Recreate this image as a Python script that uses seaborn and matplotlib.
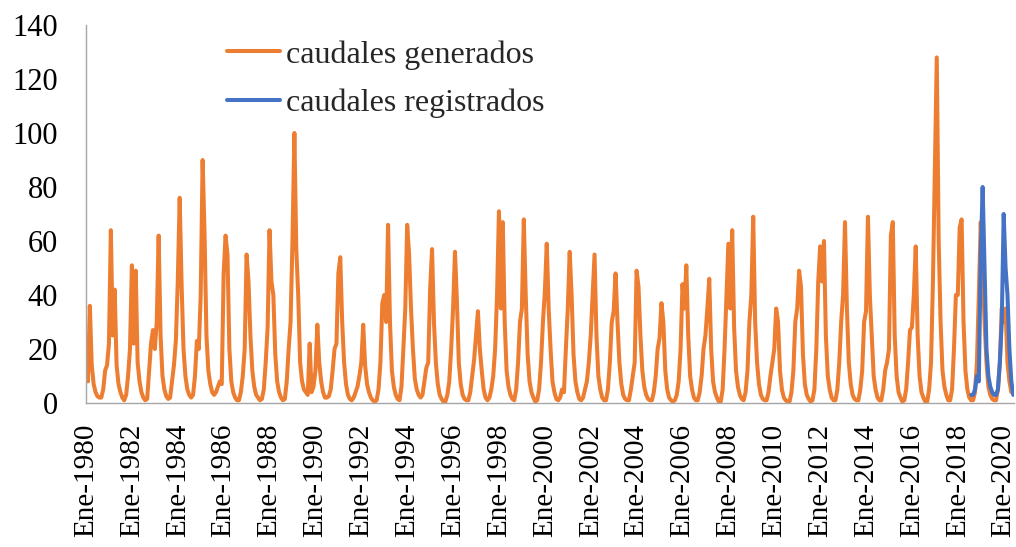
import numpy as np
import pandas as pd
import matplotlib
matplotlib.use("Agg")
import matplotlib.pyplot as plt
import seaborn as sns

# Monthly flows (Ene..Dic), Jan 1980 onward
generados = [
    19, 8, 36, 14, 7, 4, 2.5, 2, 2, 5, 12, 14,          # 1980
    22, 64, 25, 42, 14, 7, 4, 2, 1, 3, 10, 20,          # 1981
    51, 22, 49, 15, 8, 4, 2, 1, 1.5, 12, 22, 27,        # 1982
    20, 30, 62, 25, 10, 5, 2.5, 1.5, 2, 8, 14, 23,      # 1983
    45, 76, 44, 20, 10, 5, 3, 2, 3, 10, 23, 20,         # 1984
    40, 90, 63, 25, 12, 7, 4, 3, 4, 6, 8, 7,            # 1985
    48, 62, 55, 20, 8, 4, 2, 1, 1, 4, 10, 20,           # 1986
    55, 45, 25, 12, 6, 3, 2, 1, 1.5, 5, 15, 28,         # 1987
    64, 45, 40, 18, 8, 4, 2, 1, 1.5, 8, 20, 30,         # 1988
    60, 100, 57, 40, 15, 8, 5, 4, 3, 22, 4, 6,          # 1989
    12, 29, 15, 8, 4, 2, 2, 2.5, 5, 12, 20, 22,         # 1990
    48, 54, 30, 15, 7, 3, 1.5, 1, 2, 4, 6, 10,          # 1991
    15, 29, 14, 7, 4, 2, 1, 0.5, 1, 5, 15, 37,          # 1992
    40, 30, 66, 30, 12, 6, 3, 1.5, 1, 6, 20, 35,        # 1993
    66, 55, 35, 20, 9, 5, 3, 2, 3, 8, 13, 15,           # 1994
    42, 57, 30, 15, 7, 3, 1.5, 0.5, 0.5, 3, 8, 20,      # 1995
    35, 56, 38, 15, 7, 3, 1.5, 1, 1, 4, 10, 16,         # 1996
    25, 34, 20, 12, 5, 2, 1, 2, 5, 10, 20, 40,          # 1997
    71, 35, 67, 30, 12, 6, 3, 1.5, 1, 5, 15, 30,        # 1998
    35, 68, 40, 18, 8, 4, 2, 0.5, 1, 5, 15, 30,         # 1999
    41, 59, 35, 20, 8, 4, 1.5, 1, 2, 5, 4, 20,          # 2000
    35, 56, 40, 18, 8, 4, 1.5, 1, 2, 5, 8, 15,          # 2001
    25, 40, 55, 25, 10, 5, 2, 1, 1, 5, 15, 30,          # 2002
    34, 48, 30, 15, 7, 3, 1.5, 1, 1, 5, 10, 15,         # 2003
    49, 43, 25, 12, 6, 3, 1.5, 1, 1, 4, 10, 20,         # 2004
    24, 37, 30, 12, 5, 2, 1, 0.5, 1, 3, 8, 20,          # 2005
    44, 35, 51, 25, 10, 5, 2, 1, 1, 4, 10, 20,          # 2006
    25, 35, 46, 20, 8, 4, 2, 0.5, 0.5, 5, 20, 40,       # 2007
    59, 35, 64, 28, 12, 6, 3, 1.5, 1, 4, 12, 30,        # 2008
    40, 69, 30, 15, 7, 3, 1.5, 1, 1, 4, 10, 15,         # 2009
    20, 35, 30, 12, 5, 2, 1, 0.5, 0.5, 4, 12, 30,       # 2010
    35, 49, 43, 18, 7, 3, 1.5, 0.5, 1, 5, 20, 45,       # 2011
    58, 45, 60, 25, 10, 5, 2, 1, 1, 5, 15, 30,          # 2012
    40, 67, 35, 15, 7, 3, 1.5, 1, 1, 5, 12, 30,         # 2013
    34, 69, 40, 25, 10, 5, 2, 1, 1, 5, 12, 15,          # 2014
    20, 62, 67, 25, 10, 4, 2, 0.5, 1, 5, 15, 27,        # 2015
    28, 40, 58, 25, 10, 4, 2, 0.5, 0.5, 5, 15, 45,      # 2016
    87, 128, 60, 30, 12, 6, 3, 1, 1, 5, 20, 40,         # 2017
    40, 65, 68, 30, 12, 5, 2, 1, 1, 4, 15, 40,          # 2018
    67, 50, 30, 15, 6, 3, 1.5, 1, 1, 5, 15, 35,         # 2019
    30, 35, 15, 8, 4,                                   # 2020
]
generados_inicio = 1980.0

# Recorded flows, Aug 2018 onward
registrados = [3, 3, 5, 10, 8,                            # 2018 (Ago-Dic)
               55, 80, 50, 20, 10, 6, 4, 3, 3, 5, 15, 30,   # 2019
               70, 50, 40, 20, 8, 3]                      # 2020
registrados_inicio = 2018 + 7 / 12

tick_years = list(range(1980, 2021, 2))
tick_labels = [f"Ene-{y}" for y in tick_years]
y_ticks = [0, 20, 40, 60, 80, 100, 120, 140]

df_gen = pd.DataFrame({"t": generados_inicio + np.arange(len(generados)) / 12,
                       "q": generados})
df_reg = pd.DataFrame({"t": registrados_inicio + np.arange(len(registrados)) / 12,
                       "q": registrados})

sns.set_style("white")
plt.rcParams["font.family"] = ["Liberation Serif", "DejaVu Serif"]

fig = plt.figure(figsize=(10.16, 5.47), dpi=100)
ax = fig.add_axes([86 / 1016, 1 - 403 / 547, (1014 - 86) / 1016, (403 - 25) / 547])

orange = "#ED7D31"
blue = "#4472C4"
sns.lineplot(data=df_gen, x="t", y="q", ax=ax, color=orange, lw=2.9,
             label="caudales generados")
sns.lineplot(data=df_reg, x="t", y="q", ax=ax, color=blue, lw=2.9,
             label="caudales registrados")

ax.set_xlim(1980, 2020 + 0.45)
ax.set_ylim(0, 140)
ax.set_xticks(tick_years)
ax.set_xticklabels(tick_labels, rotation=90)
ax.set_yticks(y_ticks)
ax.set_xlabel("")
ax.set_ylabel("")

for s in ["top", "right"]:
    ax.spines[s].set_visible(False)
for s in ["left", "bottom"]:
    ax.spines[s].set_color("#A6A6A6")
    ax.spines[s].set_linewidth(1.0)

ax.tick_params(axis="both", which="major", direction="out", length=7,
               width=1, color="#A6A6A6", labelcolor="black")
ax.tick_params(axis="y", pad=13, labelsize=22)
ax.tick_params(axis="x", pad=8, labelsize=21)

leg = ax.legend(loc="upper left", bbox_to_anchor=(227 / 1016, 1 - 40 / 547),
                bbox_transform=fig.transFigure, frameon=False, fontsize=23,
                handlelength=1.65, handletextpad=0.2, labelspacing=0.6,
                borderpad=0, borderaxespad=0)
for line in leg.get_lines():
    line.set_linewidth(2.9)

fig.savefig("out.png", dpi=100)
